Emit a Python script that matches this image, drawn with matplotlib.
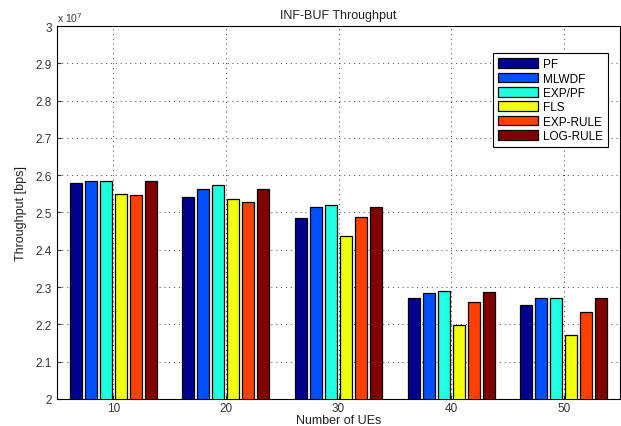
import numpy as np
import matplotlib.pyplot as plt

# throughput values in units of 1e7 bps
ues = [10, 20, 30, 40, 50]
schedulers = ["PF", "MLWDF", "EXP/PF", "FLS", "EXP-RULE", "LOG-RULE"]
pf = [2.578, 2.541, 2.485, 2.271, 2.251]
mlwdf = [2.584, 2.563, 2.515, 2.285, 2.270]
exp_pf = [2.584, 2.573, 2.519, 2.289, 2.272]
fls = [2.550, 2.537, 2.436, 2.199, 2.172]
exp_rule = [2.548, 2.529, 2.488, 2.261, 2.234]
log_rule = [2.584, 2.563, 2.515, 2.288, 2.272]
colors = ["#00008F", "#0050FF", "#20FFDF", "#F0FF10", "#FF4000", "#800000"]

plt.rcParams['font.family'] = ['Liberation Sans', 'DejaVu Sans']

fig = plt.figure(figsize=(6.21, 4.27), dpi=100)
ax = fig.add_axes([57 / 621, 27 / 427, 563 / 621, 373 / 427])

series = [pf, mlwdf, exp_pf, fls, exp_rule, log_rule]
x = np.array(ues, dtype=float)
pitch = 8.0 / len(series)
for i, (vals, name, c) in enumerate(zip(series, schedulers, colors)):
    offs = (i - (len(series) - 1) / 2) * pitch
    ax.bar(x + offs, vals, width=0.8 * pitch, color=c, edgecolor='black',
           linewidth=0.9, label=name, zorder=3)

ax.set_xlim(5, 55)
ax.set_ylim(2, 3)
ax.set_xticks(ues)
ax.set_yticks(np.arange(2, 3.01, 0.1))
ax.set_yticklabels([f"{v:g}" for v in np.round(np.arange(2, 3.01, 0.1), 1)])
ax.tick_params(direction='in', labelsize=8.5, colors='#333333', length=3)
ax.tick_params(axis='x', pad=2)
ax.grid(True, linestyle=(0, (1, 4)), color='#444444', linewidth=0.7, zorder=0)
ax.set_axisbelow(True)

ax.set_title("INF-BUF Throughput", fontsize=9, color='#222222', pad=6)
ax.set_xlabel("Number of UEs", fontsize=9, color='#222222', labelpad=0)
ax.set_ylabel("Throughput [bps]", fontsize=9, color='#222222', labelpad=6)
ax.text(0.0, 1.005, r"x 10$^7$", transform=ax.transAxes, fontsize=7.5,
        color='#333333', ha='left', va='bottom')

leg = ax.legend(loc='upper right', bbox_to_anchor=(0.979, 0.928), fontsize=8.5,
                fancybox=False, framealpha=1, edgecolor='black',
                handlelength=3.4, handleheight=0.9, labelspacing=0.2,
                borderpad=0.45, handletextpad=0.4, borderaxespad=0)
leg.get_frame().set_linewidth(0.8)

fig.savefig("out.png", dpi=100)
